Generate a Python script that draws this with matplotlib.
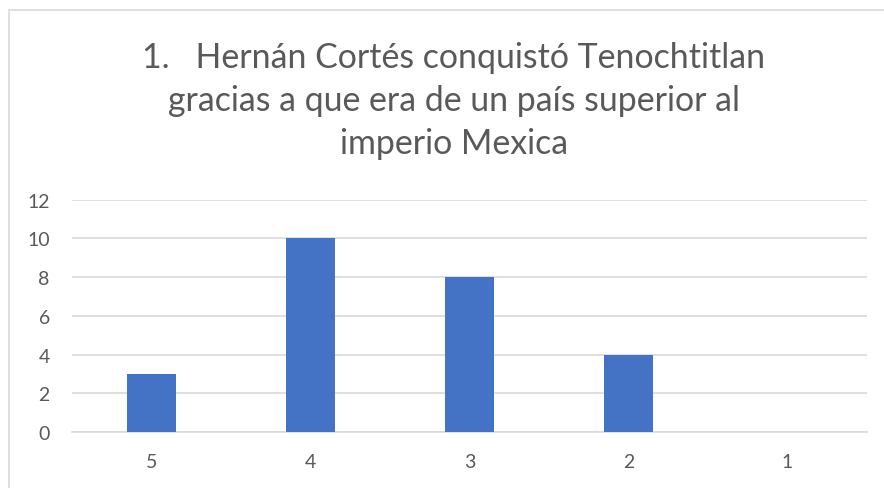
import matplotlib
matplotlib.use("Agg")
import matplotlib.pyplot as plt
from matplotlib.patches import Rectangle

categories = ["5", "4", "3", "2", "1"]
values = [3, 10, 8, 4, 0]
yticks = [0, 2, 4, 6, 8, 10, 12]
title = "1.   Hernán Cortés conquistó Tenochtitlan\ngracias a que era de un país superior al\nimperio Mexica"

W, H = 884, 489
fig = plt.figure(figsize=(W / 100, H / 100), dpi=100)
fig.patch.set_facecolor("white")
plt.rcParams["font.family"] = ["Lato", "DejaVu Sans"]

text_color = "#595959"
grid_color = "#D9D9D9"
bar_color = "#4472C4"

# chart frame (extends past right/bottom edges)
fig.patches.append(Rectangle((8.5 / W, -0.1), 1.2, 1 - 10.5 / H + 0.1,
                             transform=fig.transFigure, fill=False,
                             edgecolor="#D9D9D9", linewidth=1.2))

ax = fig.add_axes([72 / W, 1 - 433 / H, (867 - 72) / W, (433 - 200.7) / H])
ax.set_facecolor("none")
x = list(range(len(categories)))
ax.bar(x, values, width=0.31, color=bar_color, zorder=3)
ax.set_xlim(-0.5, len(categories) - 0.5)
ax.set_ylim(0, 12)
ax.set_yticks(yticks)
ax.set_yticklabels([str(t) for t in yticks])
ax.set_xticks(x)
ax.set_xticklabels(categories)
ax.grid(axis="y", color=grid_color, linewidth=1.2, zorder=0)
ax.set_axisbelow(True)
for s in ["top", "right", "left"]:
    ax.spines[s].set_visible(False)
ax.spines["bottom"].set_color(grid_color)
ax.spines["bottom"].set_linewidth(1.2)
ax.tick_params(axis="both", length=0, colors=text_color, labelsize=14)
ax.tick_params(axis="y", pad=16)
ax.tick_params(axis="x", pad=15)
for lbl in ax.get_xticklabels() + ax.get_yticklabels():
    lbl.set_color(text_color)

fig.text(454 / W, 1 - 101 / H, title, ha="center", va="center",
         fontsize=24.4, color=text_color, linespacing=1.43)

fig.savefig("out.png", dpi=100, facecolor="white")
